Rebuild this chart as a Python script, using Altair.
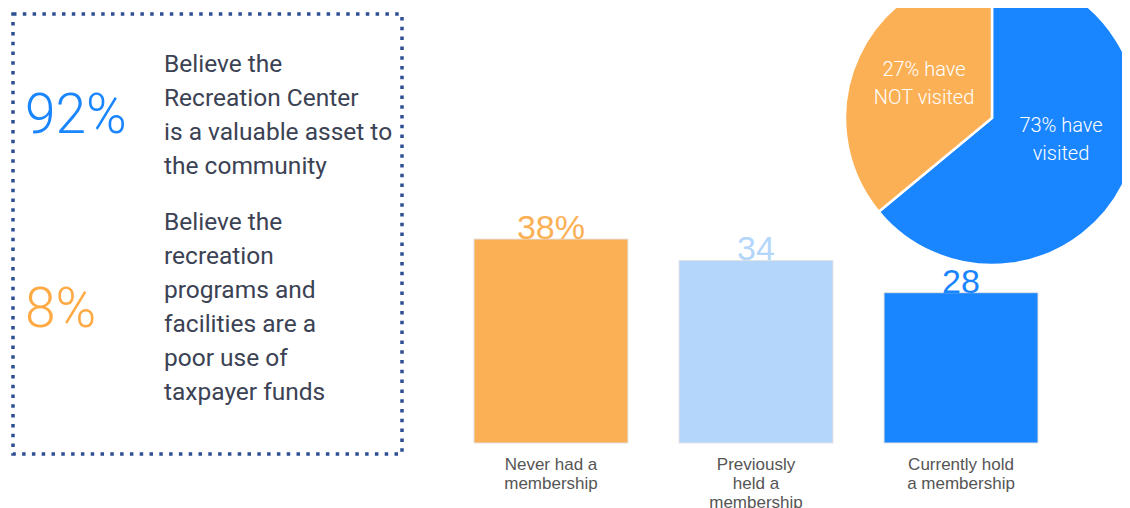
import altair as alt
import pandas as pd

# ---- data ----
bar_categories = ["Never had a\nmembership", "Previously\nheld a\nmembership", "Currently hold\na membership"]
bar_values = [38, 34, 28]
bar_value_labels = ["38%", "34", "28"]
bar_colors = ["#FCB055", "#B5D6FB", "#1985FF"]

pie_slices = ["visited", "not visited"]
pie_drawn_share = [64, 36]          # angular share as drawn in the picture
pie_colors = ["#1985FF", "#FCB055"]
pie_label_visited = "73% have\nvisited"
pie_label_not = "27% have\nNOT visited"

stat_big = ["92%", "8%"]
stat_big_colors = ["#1985FF", "#FFAA45"]
stat_text_1 = ["Believe the", "Recreation Center", "is a valuable asset to", "the community"]
stat_text_2 = ["Believe the", "recreation", "programs and", "facilities are a", "poor use of", "taxpayer funds"]

TEXT_FONT = "Roboto"
TEXT_COLOR = "#3B4254"

bars_df = pd.DataFrame({"cat": bar_categories, "value": bar_values, "label": bar_value_labels})
pie_df = pd.DataFrame({"slice": pie_slices, "share": pie_drawn_share, "idx": [0, 1]})

color_scale = alt.Scale(domain=bar_categories + pie_slices, range=bar_colors + pie_colors)
x_scale = alt.Scale(domain=bar_categories, range=[466, 1030], paddingInner=0.249, paddingOuter=0)
y_scale = alt.Scale(domain=[0, 38], range=[435, 231])

# ---- dotted box ----
box = alt.Chart(pd.DataFrame({"a": [0]})).mark_rect(
    filled=False, stroke="#2D4F92", strokeWidth=3.5, strokeDash=[3.5, 6.3]
).encode(x=alt.value(5), x2=alt.value(394), y=alt.value(6), y2=alt.value(446))

big1 = alt.Chart(pd.DataFrame({"t": [stat_big[0]]})).mark_text(
    font=TEXT_FONT, fontSize=55, fontWeight=300, align="left", baseline="alphabetic",
    color=stat_big_colors[0]
).encode(text="t:N", x=alt.value(17), y=alt.value(125))

big2 = alt.Chart(pd.DataFrame({"t": [stat_big[1]]})).mark_text(
    font=TEXT_FONT, fontSize=55, fontWeight=300, align="left", baseline="alphabetic",
    color=stat_big_colors[1]
).encode(text="t:N", x=alt.value(17), y=alt.value(319))

blk1 = alt.Chart(pd.DataFrame({"t": ["\n".join(stat_text_1)]})).mark_text(
    font=TEXT_FONT, fontSize=24.5, align="left", baseline="alphabetic", color=TEXT_COLOR,
    lineBreak="\n", lineHeight=34
).encode(text="t:N", x=alt.value(156), y=alt.value(64))

blk2 = alt.Chart(pd.DataFrame({"t": ["\n".join(stat_text_2)]})).mark_text(
    font=TEXT_FONT, fontSize=24.5, align="left", baseline="alphabetic", color=TEXT_COLOR,
    lineBreak="\n", lineHeight=34
).encode(text="t:N", x=alt.value(156), y=alt.value(222))

# ---- bars ----
base = alt.Chart(bars_df)
bars = base.mark_bar(stroke="#E2E2E2", strokeWidth=1).encode(
    x=alt.X("cat:N", scale=x_scale, axis=None, sort=bar_categories),
    y=alt.Y("value:Q", scale=y_scale, axis=None),
    color=alt.Color("cat:N", scale=color_scale, legend=None),
)
value_labels = base.mark_text(
    font="Liberation Sans", fontSize=34, baseline="alphabetic", dy=0
).encode(
    x=alt.X("cat:N", scale=x_scale, axis=None, sort=bar_categories),
    y=alt.Y("value:Q", scale=y_scale, axis=None),
    text="label:N",
    color=alt.Color("cat:N", scale=color_scale, legend=None),
)
cat_labels = base.mark_text(
    font="Liberation Sans", fontSize=17, baseline="alphabetic", color="#555555",
    lineBreak="\n", lineHeight=19
).encode(
    x=alt.X("cat:N", scale=x_scale, axis=None, sort=bar_categories),
    y=alt.value(462),
    text="cat:N",
)

# ---- pie ----
pie = alt.Chart(pie_df).mark_arc(radius=147, stroke="white", strokeWidth=2.5).encode(
    theta=alt.Theta("share:Q", stack=True),
    order=alt.Order("idx:Q"),
    color=alt.Color("slice:N", scale=color_scale, legend=None),
    x=alt.value(984),
    y=alt.value(110),
)
pie_lab1 = alt.Chart(pd.DataFrame({"t": [pie_label_not]})).mark_text(
    font=TEXT_FONT, fontSize=20, fontWeight=300, baseline="alphabetic", color="white",
    lineBreak="\n", lineHeight=28
).encode(text="t:N", x=alt.value(916), y=alt.value(68))
pie_lab2 = alt.Chart(pd.DataFrame({"t": [pie_label_visited]})).mark_text(
    font=TEXT_FONT, fontSize=20, fontWeight=300, baseline="alphabetic", color="white",
    lineBreak="\n", lineHeight=28
).encode(text="t:N", x=alt.value(1053), y=alt.value(124))

chart = alt.layer(
    box, big1, big2, blk1, blk2, bars, value_labels, cat_labels, pie, pie_lab1, pie_lab2
).properties(
    width=1114, height=500, padding=0,
    autosize=alt.AutoSizeParams(type="none"),
    background="white",
).configure_view(strokeWidth=0)

chart.save("out.html", embed_options={"renderer": "svg", "actions": False})
